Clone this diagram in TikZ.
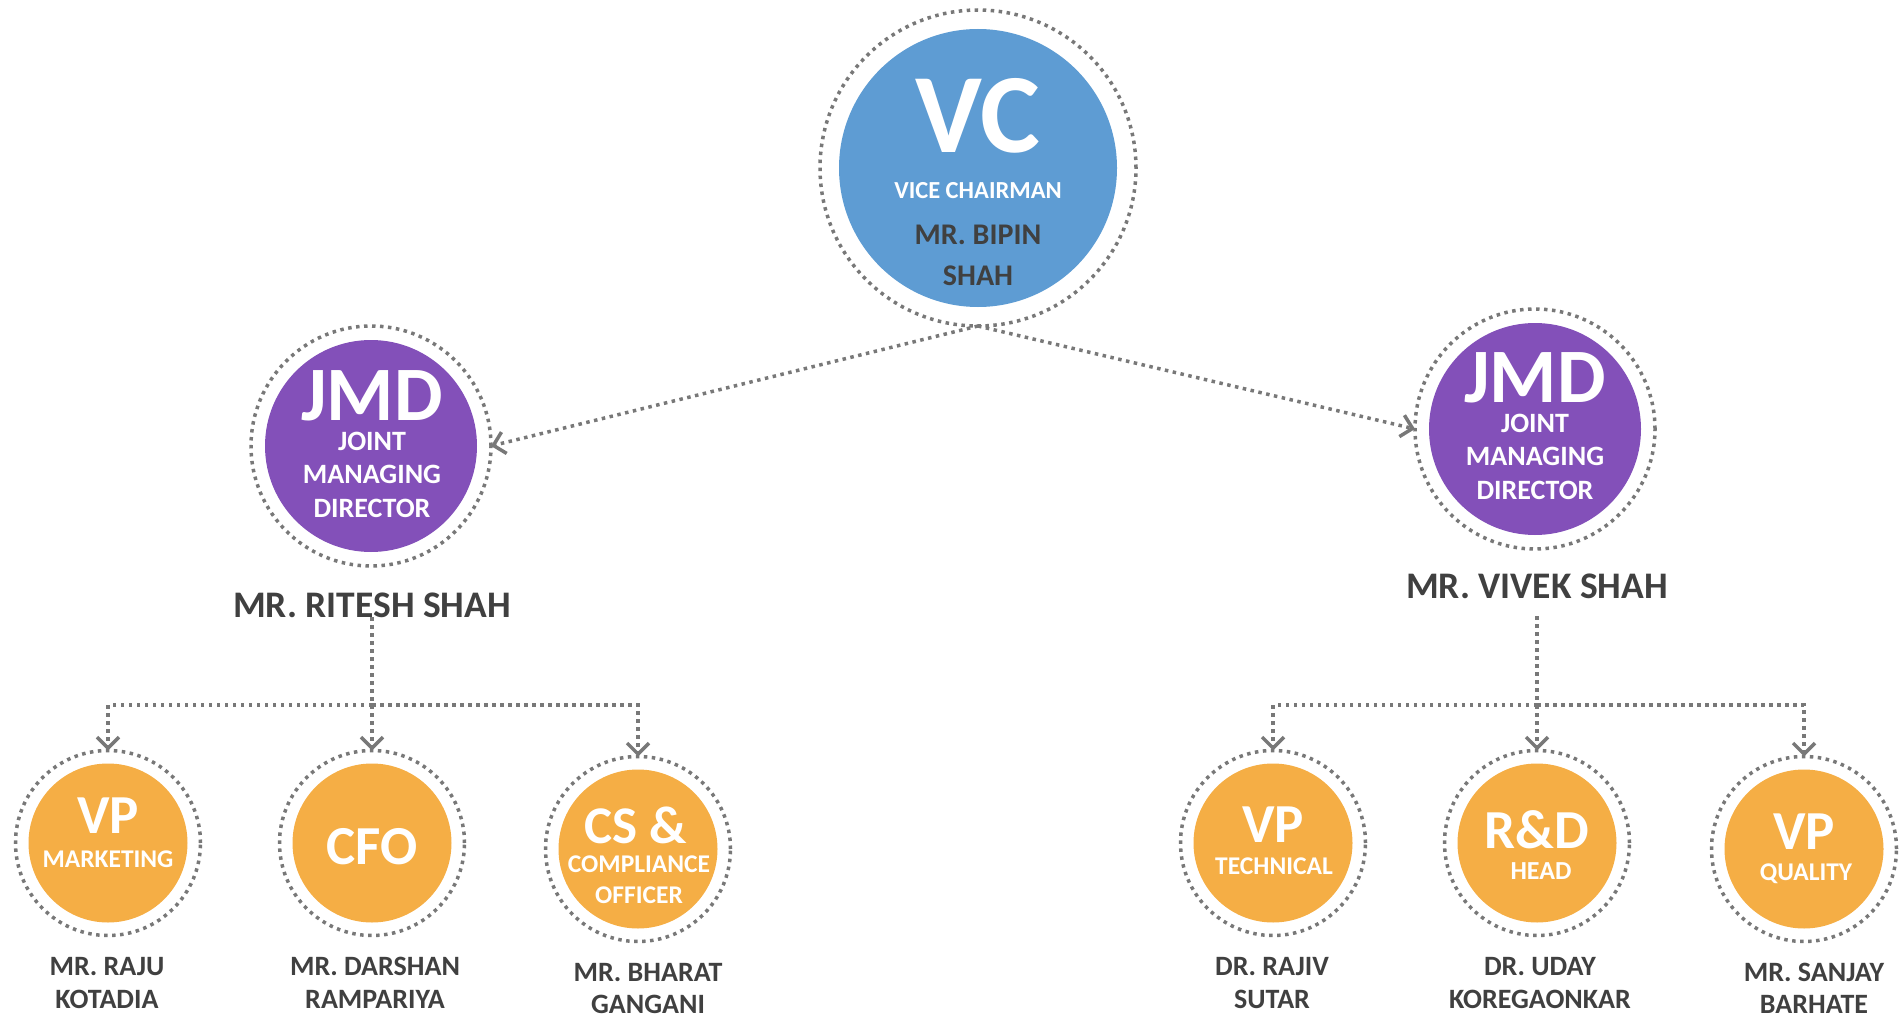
\documentclass[tikz,border=0pt]{standalone}
\usepackage{fontspec}
\setmainfont{Carlito}
\usepackage{tikz}
\usetikzlibrary{arrows.meta}

\definecolor{vcblue}{RGB}{94,156,211}
\definecolor{jmdpurple}{RGB}{131,80,185}
\definecolor{vporange}{RGB}{245,174,69}
\definecolor{namegray}{RGB}{64,64,64}
\definecolor{dotgray}{RGB}{120,120,120}

\newcommand{\orgfont}[2]{\fontsize{#1}{#2}\selectfont\bfseries}

\begin{document}
\begin{tikzpicture}[
  x = 1pt, y = -1pt, % pixel grid, y downwards
  >= {Straight Barb[length=11pt,width=22pt]}, % arrow head style
  font = \bfseries
  ]

  \tikzstyle{ring}=[
    shape = circle,
    draw = dotgray,
    line width = 3.5pt,
    dash pattern = on 3.5pt off 4.5pt,
    inner sep = 0pt,
    outer sep = 0pt
  ]
  \tikzstyle{disc}=[shape=circle, inner sep=0pt, draw=none]
  \tikzstyle{dotline}=[draw=dotgray, line width=3.5pt, dash pattern=on 3.5pt off 4.5pt]
  \tikzstyle{conn}=[dotline, ->]
  % base anchor = baseline of the last line
  \tikzstyle{roletext}=[text=white, anchor=base, inner sep=0pt, align=center]
  \tikzstyle{persontext}=[text=namegray, anchor=base, inner sep=0pt, align=center]

\useasboundingbox (0,0) rectangle (1899,1019);

% vice chairman
\node[ring, minimum size=316] (vc) at (978,168) {};
\node[disc, fill=vcblue, minimum size=278] (vcdisc) at (vc) {};
\node[roletext, font=\orgfont{113}{113}] (vct) at (978,153) {VC};
\node[roletext, font=\orgfont{24.5}{24}] (vcs) at (978,199) {VICE CHAIRMAN};
\node[persontext, font=\orgfont{30}{40}] (bipin) at (978,285) {MR. BIPIN\\SHAH};

% joint managing directors
\node[ring, minimum size=240] (jmdl) at (371,446) {};
\node[disc, fill=jmdpurple, minimum size=212] (jmdldisc) at (jmdl) {};
\node[roletext, font=\orgfont{77}{77}, text depth=0pt] (jmdlt) at (372,420) {JMD};
\node[roletext, font=\orgfont{28}{33.5}] (jmdls) at (372,517) {JOINT\\MANAGING\\DIRECTOR};
\node[persontext, font=\orgfont{37.5}{34}] (ritesh) at (372,617) {MR. RITESH SHAH};

\node[ring, minimum size=240] (jmdr) at (1535,429) {};
\node[disc, fill=jmdpurple, minimum size=212] (jmdrdisc) at (jmdr) {};
\node[roletext, font=\orgfont{77}{77}, text depth=0pt] (jmdrt) at (1535,402) {JMD};
\node[roletext, font=\orgfont{28}{33.5}] (jmdrs) at (1535,499) {JOINT\\MANAGING\\DIRECTOR};
\node[persontext, font=\orgfont{37.5}{34}] (vivek) at (1537,598) {MR. VIVEK SHAH};

% left team
\node[ring, minimum size=185] (vpm) at (108,843) {};
\node[disc, fill=vporange, minimum size=159] (vpmdisc) at (vpm) {};
\node[roletext, font=\orgfont{55}{55}] (vpmt) at (108,833) {VP};
\node[roletext, font=\orgfont{25.5}{25}] (vpms) at (108,867) {MARKETING};
\node[persontext, font=\orgfont{28}{33}] (raju) at (107,1008) {MR. RAJU\\KOTADIA};

\node[ring, minimum size=185] (cfo) at (372,843) {};
\node[disc, fill=vporange, minimum size=159] (cfodisc) at (cfo) {};
\node[roletext, font=\orgfont{55}{55}] (cfot) at (372,864) {CFO};
\node[persontext, font=\orgfont{28}{33}] (darshan) at (375,1008) {MR. DARSHAN\\RAMPARIYA};

\node[ring, minimum size=185] (cs) at (638,849) {};
\node[disc, fill=vporange, minimum size=159] (csdisc) at (cs) {};
\node[roletext, font=\orgfont{53}{53}] (cst) at (636,843) {CS \&};
\node[roletext, font=\orgfont{25.5}{31}] (css) at (639,903) {COMPLIANCE\\OFFICER};
\node[persontext, font=\orgfont{28}{32}] (bharat) at (648,1013) {MR. BHARAT\\GANGANI};

% right team
\node[ring, minimum size=185] (vpt) at (1273,843) {};
\node[disc, fill=vporange, minimum size=159] (vptdisc) at (vpt) {};
\node[roletext, font=\orgfont{55}{55}] (vptt) at (1273,842) {VP};
\node[roletext, font=\orgfont{25.5}{25}] (vpts) at (1274,874) {TECHNICAL};
\node[persontext, font=\orgfont{28}{33}] (rajiv) at (1272,1008) {DR. RAJIV\\SUTAR};

\node[ring, minimum size=185] (rd) at (1537,843) {};
\node[disc, fill=vporange, minimum size=159] (rddisc) at (rd) {};
\node[roletext, font=\orgfont{55}{55}] (rdt) at (1537,848) {R\&D};
\node[roletext, font=\orgfont{26}{26}] (rds) at (1541,879) {HEAD};
\node[persontext, font=\orgfont{28}{33}] (uday) at (1540,1008) {DR. UDAY\\KOREGAONKAR};

\node[ring, minimum size=185] (vpq) at (1804,849) {};
\node[disc, fill=vporange, minimum size=159] (vpqdisc) at (vpq) {};
\node[roletext, font=\orgfont{55}{55}] (vpqt) at (1804,849) {VP};
\node[roletext, font=\orgfont{25.5}{25}] (vpqs) at (1806,880) {QUALITY};
\node[persontext, font=\orgfont{28}{32}] (sanjay) at (1814,1013) {MR. SANJAY\\BARHATE};

\coordinate (lbus) at (372,705);
\coordinate (rbus) at (1537,705);

\draw[conn] (vc.south) -- (jmdl.east);
\draw[conn] (vc.south) -- (jmdr.west);

\draw[dotline] (ritesh) -- (lbus);
\draw[conn] (lbus) -| (vpm);
\draw[conn] (lbus) -- (cfo);
\draw[conn] (lbus) -| (cs);

\draw[dotline, shorten <=18pt] (vivek) -- (rbus);
\draw[conn] (rbus) -| (vpt);
\draw[conn] (rbus) -- (rd);
\draw[conn] (rbus) -| (vpq);
\end{tikzpicture}
\end{document}
